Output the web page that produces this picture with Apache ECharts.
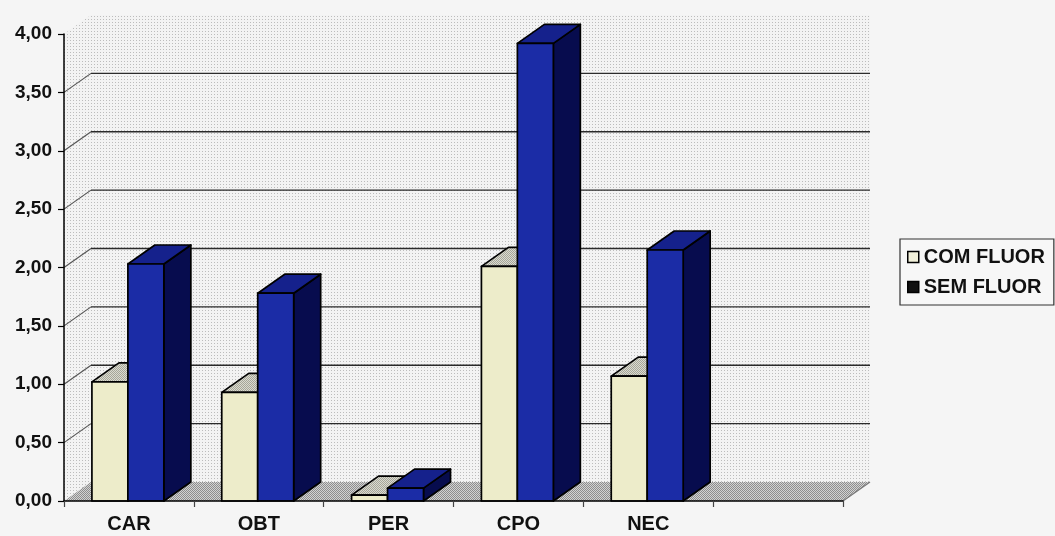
<!DOCTYPE html>
<html>
<head>
<meta charset="utf-8">
<script src="https://cdn.jsdelivr.net/npm/echarts@6/dist/echarts.min.js"></script>
<style>
  html, body { margin: 0; padding: 0; background: #f5f5f5; }
  #chart { width: 1055px; height: 536px; }
</style>
</head>
<body>
<div id="chart"></div>
<script>
// Categories (last slot is an empty one, as in the original layout)
const categories = ['CAR', 'OBT', 'PER', 'CPO', 'NEC', ''];
const comFluor = [1.02, 0.93, 0.05, 2.01, 1.07];
const semFluor = [2.03, 1.78, 0.11, 3.92, 2.15];
const gridValues = [0.5, 1, 1.5, 2, 2.5, 3, 3.5];
const seriesNames = ['COM FLUOR', 'SEM FLUOR'];

// depth offset of the 3D box (pixels)
const DX = 27, DY = -19;

function makePattern(size, bg, dot, dots) {
  const c = document.createElement('canvas');
  c.width = size; c.height = size;
  const g = c.getContext('2d');
  g.fillStyle = bg; g.fillRect(0, 0, size, size);
  g.fillStyle = dot;
  dots.forEach(function (p) { g.fillRect(p[0], p[1], 1, 1); });
  return { image: c, repeat: 'repeat' };
}

const wallFill = makePattern(3, '#f3f3f3', '#bcbcbc', [[1, 1]]);
const floorFill = makePattern(2, '#d2d2d2', '#8e8e8e', [[0, 0], [1, 1]]);
const lightTopFill = makePattern(2, '#dadad0', '#a6a699', [[0, 0], [1, 1]]);

const barStyles = [
  { front: '#edecca', top: lightTopFill, side: '#b8b79a' },
  { front: '#1b2ca6', top: '#15218c', side: '#070c4e' }
];

function plotEdges(api) {
  const band = api.size([1, 0])[0];
  const left = api.coord([0, 0])[0] - band / 2;
  const right = api.coord([categories.length - 1, 0])[0] + band / 2;
  return { band: band, left: left, right: right };
}

// walls and floor
function renderFrame(params, api) {
  const e = plotEdges(api);
  const y0 = api.coord([0, 0])[1];
  const y4 = api.coord([0, api.value(1)])[1];
  const L = e.left, R = e.right;
  return {
    type: 'group',
    children: [
      { type: 'polygon', shape: { points: [[L, y4], [L + DX, y4 + DY], [L + DX, y0 + DY], [L, y0]] },
        style: { fill: wallFill } },
      { type: 'polygon', shape: { points: [[L + DX, y4 + DY], [R + DX, y4 + DY], [R + DX, y0 + DY], [L + DX, y0 + DY]] },
        style: { fill: wallFill } },
      { type: 'polygon', shape: { points: [[L, y0], [L + DX, y0 + DY], [R + DX, y0 + DY], [R, y0]] },
        style: { fill: floorFill } },
      { type: 'line', shape: { x1: R, y1: y0, x2: R + DX, y2: y0 + DY },
        style: { stroke: '#777', lineWidth: 1.2 } }
    ]
  };
}

// horizontal grid lines on the back wall plus the slanted part on the side wall
function renderGrid(params, api) {
  const e = plotEdges(api);
  const y = api.coord([0, api.value(1)])[1];
  return {
    type: 'group',
    children: [
      { type: 'line', shape: { x1: e.left, y1: y, x2: e.left + DX, y2: y + DY },
        style: { stroke: '#555', lineWidth: 1.2 } },
      { type: 'line', shape: { x1: e.left + DX, y1: y + DY, x2: e.right + DX, y2: y + DY },
        style: { stroke: '#2a2a2a', lineWidth: 1.4 } }
    ]
  };
}

function barRenderer(idx) {
  const st = barStyles[idx];
  return function (params, api) {
    const i = api.value(0), v = api.value(1);
    const base = api.coord([i, 0]);
    const top = api.coord([i, v]);
    const band = api.size([1, 0])[0];
    const w = band * 0.277;
    const x0 = base[0] - band * 0.285 + idx * w;
    const x1 = x0 + w;
    const by = base[1], ty = top[1];
    const line = { stroke: '#000', lineWidth: 1.7, lineJoin: 'round' };
    return {
      type: 'group',
      children: [
        { type: 'polygon', shape: { points: [[x1, ty], [x1 + DX, ty + DY], [x1 + DX, by + DY], [x1, by]] },
          style: Object.assign({ fill: st.side }, line) },
        { type: 'polygon', shape: { points: [[x0, ty], [x0 + DX, ty + DY], [x1 + DX, ty + DY], [x1, ty]] },
          style: Object.assign({ fill: st.top }, line) },
        { type: 'rect', shape: { x: x0, y: ty, width: w, height: by - ty },
          style: Object.assign({ fill: st.front }, line) }
      ]
    };
  };
}

const chart = echarts.init(document.getElementById('chart'), null, { renderer: 'canvas' });

const fontFamily = '"Liberation Sans", Arial, sans-serif';

chart.setOption({
  backgroundColor: '#f5f5f5',
  animation: false,
  grid: { left: 64, right: 212, top: 34, bottom: 35 },
  legend: {
    orient: 'vertical',
    left: 900,
    top: 239,
    padding: [8, 9, 8, 7],
    itemGap: 10,
    itemWidth: 11,
    itemHeight: 11,
    borderColor: '#333',
    borderWidth: 1.2,
    backgroundColor: '#f7f7f7',
    textStyle: { fontFamily: fontFamily, fontWeight: 'bold', fontSize: 20, color: '#111' },
    data: [
      { name: seriesNames[0], icon: 'rect', itemStyle: { color: '#f2f1da', borderColor: '#000', borderWidth: 1.5 } },
      { name: seriesNames[1], icon: 'rect', itemStyle: { color: '#111', borderColor: '#000', borderWidth: 1.5 } }
    ]
  },
  xAxis: {
    type: 'category',
    data: categories,
    boundaryGap: true,
    z: 10,
    axisLine: { lineStyle: { color: '#000', width: 1.5 } },
    axisTick: { show: true, length: 6, lineStyle: { color: '#444', width: 1.2 } },
    axisLabel: { margin: 13, fontFamily: fontFamily, fontWeight: 'bold', fontSize: 20, color: '#111' },
    splitLine: { show: false }
  },
  yAxis: {
    type: 'value',
    min: 0,
    max: 4,
    interval: 0.5,
    z: 10,
    axisLine: { show: true, lineStyle: { color: '#000', width: 1.5 } },
    axisTick: { show: true, length: 6, lineStyle: { color: '#000', width: 1.2 } },
    axisLabel: {
      margin: 12, fontFamily: fontFamily, fontWeight: 'bold', fontSize: 19, color: '#111',
      formatter: function (v) { return v.toFixed(2).replace('.', ','); }
    },
    splitLine: { show: false }
  },
  series: [
    {
      type: 'custom', name: 'frame', z: 1, silent: true,
      renderItem: renderFrame,
      data: [[0, 4]]
    },
    {
      type: 'custom', name: 'grid', z: 1, silent: true,
      renderItem: renderGrid,
      data: gridValues.map(function (v) { return [0, v]; })
    },
    {
      type: 'custom', name: seriesNames[0], z: 3,
      itemStyle: { color: '#f2f1da' },
      renderItem: barRenderer(0),
      encode: { x: 0, y: 1 },
      data: comFluor.map(function (v, i) { return [i, v]; })
    },
    {
      type: 'custom', name: seriesNames[1], z: 3,
      itemStyle: { color: '#111' },
      renderItem: barRenderer(1),
      encode: { x: 0, y: 1 },
      data: semFluor.map(function (v, i) { return [i, v]; })
    }
  ]
});
</script>
</body>
</html>
